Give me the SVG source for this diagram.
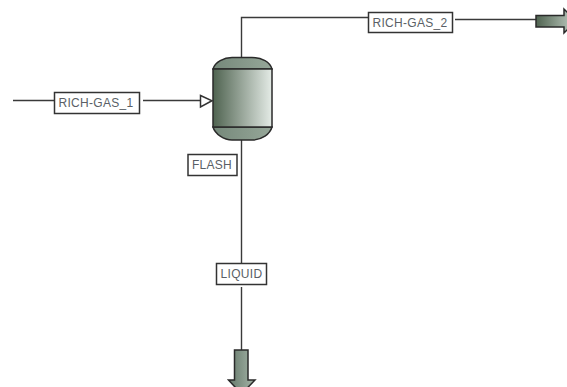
<svg xmlns="http://www.w3.org/2000/svg" width="567" height="387" viewBox="0 0 567 387">
<style>
.ln{fill:none;stroke:#3a3a3a;stroke-width:1.4}
.eq{stroke:#2a2a2a;stroke-width:1.5}
.lb{fill:#fff;stroke:#333;stroke-width:1.5}
.tx{font-family:"Liberation Sans",Arial,sans-serif;font-size:12px;fill:#5a5f66;text-anchor:middle;letter-spacing:0.3px}
</style>
<defs>
<linearGradient id="v" x1="0" x2="1" y1="0" y2="0"><stop offset="0" stop-color="#4f6350"/><stop offset="1" stop-color="#e4ebe6"/></linearGradient>
<linearGradient id="h" x1="0" x2="1" y1="0" y2="0"><stop offset="0" stop-color="#4f6350"/><stop offset="1" stop-color="#c4d0c6"/></linearGradient>
<linearGradient id="c" x1="0" x2="1" y1="0" y2="0"><stop offset="0" stop-color="#75887a"/><stop offset="1" stop-color="#96a799"/></linearGradient>
<linearGradient id="d" x1="0" x2="1" y1="0" y2="0"><stop offset="0" stop-color="#65786a"/><stop offset="1" stop-color="#a5b5a8"/></linearGradient>
</defs>
<g id="connectors">
<path class="ln" d="M13 100.500H54M143 100.500H200"/>
<path class="ln" d="M241.500 58V17.500H368M455 19.500H536"/>
<path class="ln" d="M241.500 140V263M241.500 287V350"/>
<path fill="#fff" stroke="#333" stroke-width="1.5" d="M200.500 95.500L212 100.700L200.500 107Z"/>
</g>
<g id="flash-vessel">
<path class="eq" fill="url(#c)" d="M213 69C215 62 224 57.500 232 57.500H252C262 57.500 270 62 272 69Z"/>
<path class="eq" fill="url(#c)" d="M213 127C215 134 224 140 232 140H252C262 140 270 134 272 127Z"/>
<rect class="eq" fill="url(#v)" x="213" y="69" width="59" height="58"/>
</g>
<g id="product-rich-gas-2">
<path class="eq" fill="url(#h)" d="M536 15.500H564V9L576 21L564 33V27H536Z"/>
</g>
<g id="product-liquid">
<path class="eq" fill="url(#d)" d="M234.500 350H248V380H255L241.500 394L228.500 380H234.500Z"/>
</g>
<g id="label-rich-gas-1"><rect class="lb" x="54.500" y="92.500" width="85" height="21"/><text class="tx" x="96" y="107">RICH-GAS_1</text></g>
<g id="label-rich-gas-2"><rect class="lb" x="368.500" y="12.500" width="84" height="20"/><text class="tx" x="410" y="26.500">RICH-GAS_2</text></g>
<g id="label-flash"><rect class="lb" x="188" y="154.500" width="49" height="21"/><text class="tx" x="212" y="169">FLASH</text></g>
<g id="label-liquid"><rect class="lb" x="216.500" y="263.500" width="50" height="21"/><text class="tx" x="241.500" y="277.500">LIQUID</text></g>
</svg>
